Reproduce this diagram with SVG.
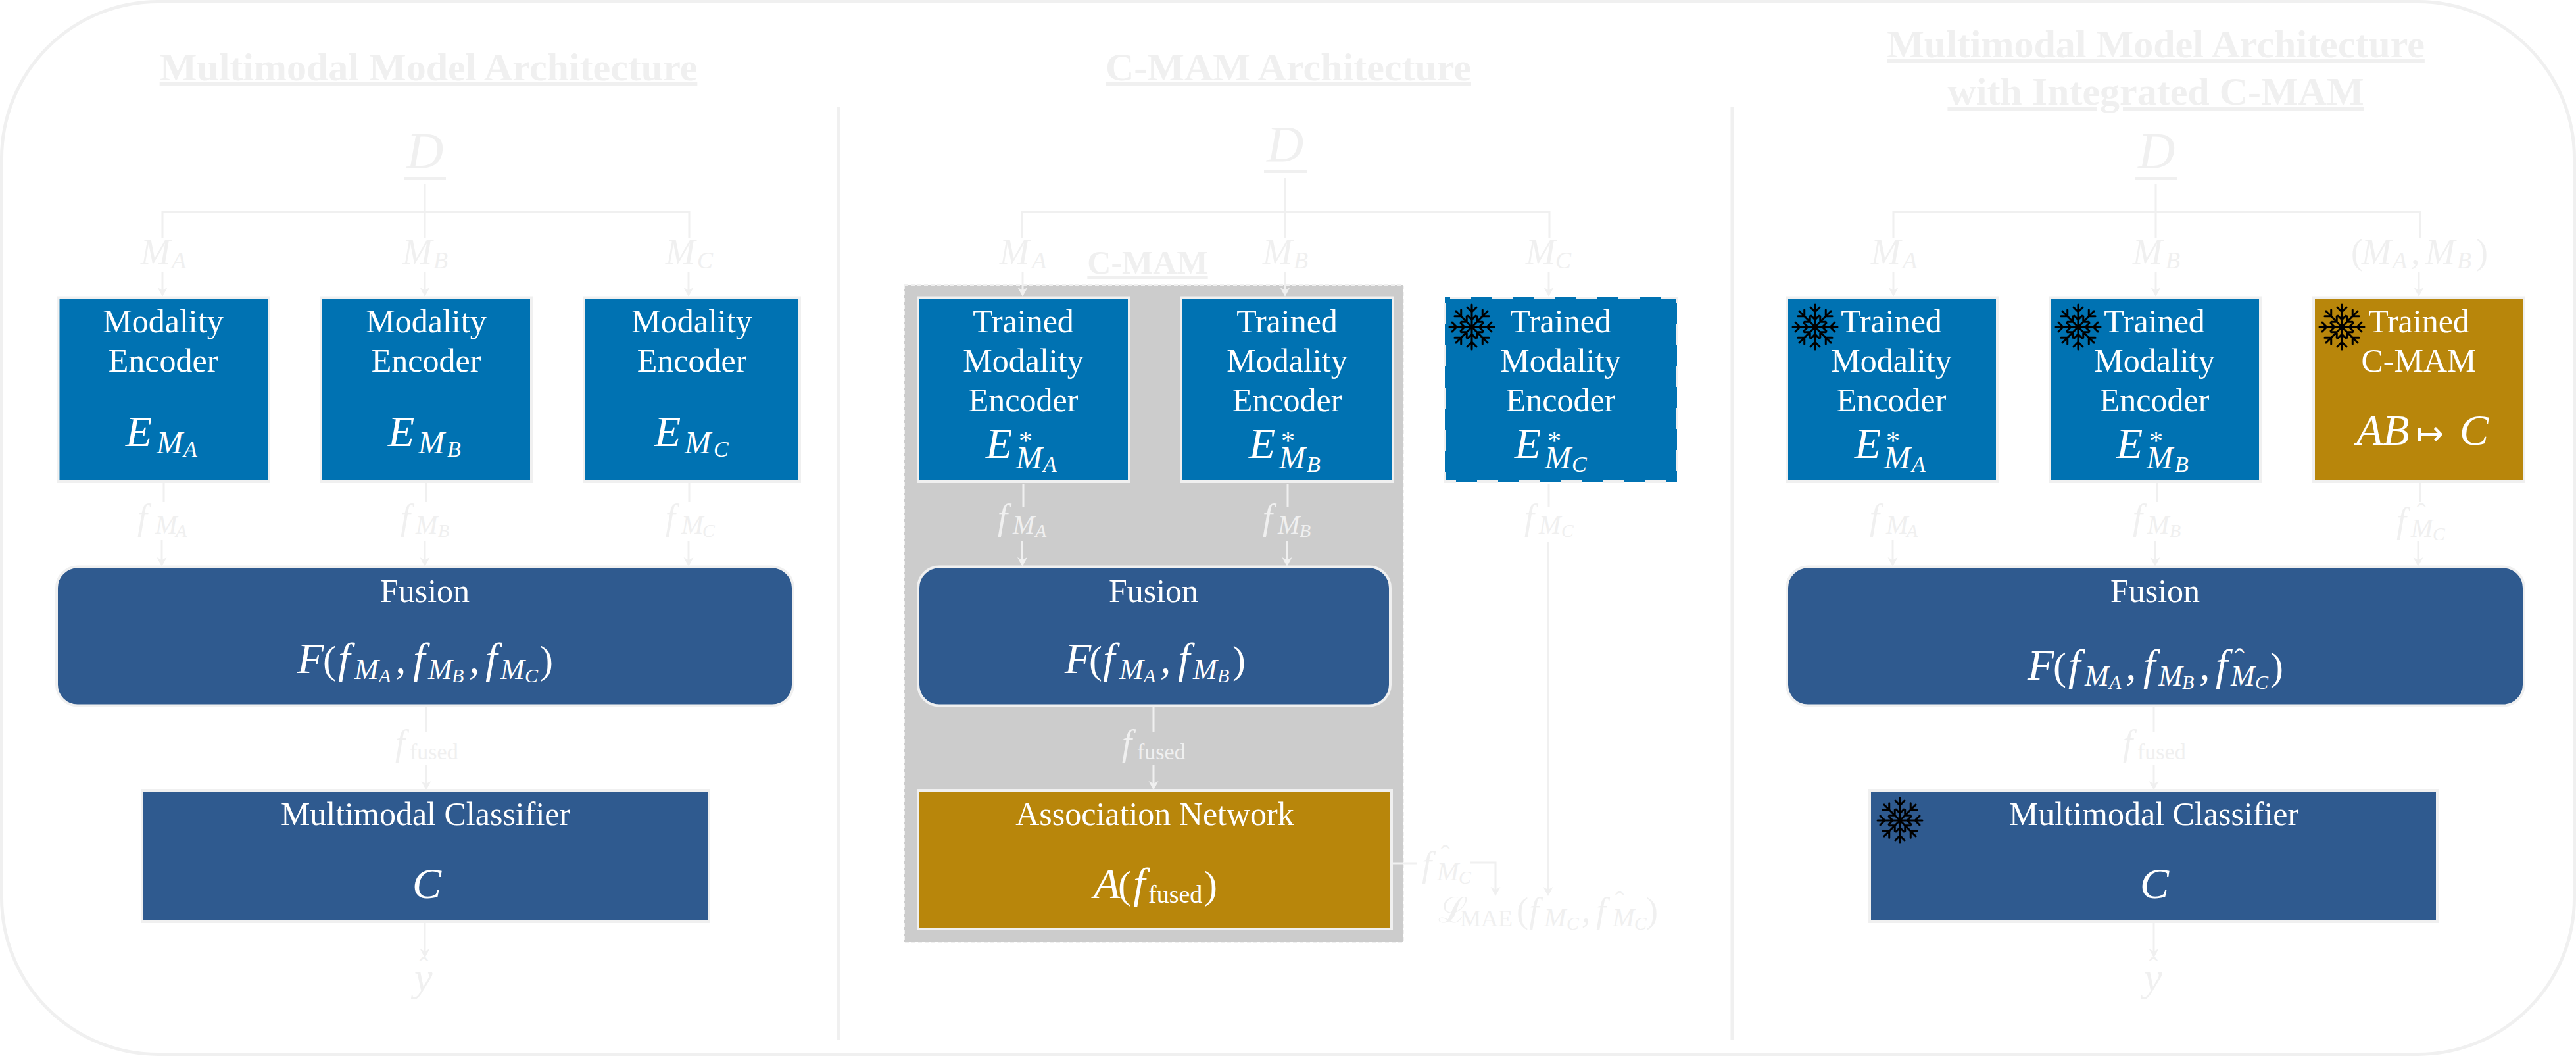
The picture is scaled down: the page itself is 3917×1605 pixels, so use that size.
<svg xmlns="http://www.w3.org/2000/svg" width="3917" height="1605" viewBox="0 0 3917 1605">
<style>
text{font-family:"Liberation Serif","Times New Roman",serif}
.title{font-size:60px;font-weight:700;fill:#f0f0f0;text-anchor:middle;text-decoration:underline}
.cmam{font-size:50px;font-weight:700;fill:#f0f0f0;text-anchor:middle;text-decoration:underline}
.w{font-size:50px;fill:#fff;text-anchor:middle}
.mw{fill:#fff;font-style:italic;font-size:66px}
.ml{fill:#f0f0f0;font-style:italic;font-size:54px}
.big{font-size:78px}
.s48{font-size:48px}.s44{font-size:44px}.s40{font-size:40px}.s42{font-size:42px}.s36{font-size:36px}.s34{font-size:34px}.s32{font-size:32px}.s30{font-size:30px}.s28{font-size:28px}
.r{font-style:normal}
.p{font-size:60px;font-style:normal}
.arrow{font-family:"DejaVu Sans",sans-serif;font-style:normal;font-size:50px;font-weight:200}
.enc{fill:#0072b2;stroke:#f0f0f0;stroke-width:4}
.dark{fill:#2f5a8f;stroke:#f0f0f0;stroke-width:4}
.gold{fill:#b8860b;stroke:#f0f0f0;stroke-width:4}
.con{fill:none;stroke:#f0f0f0;stroke-width:3}
.arr{marker-end:url(#ah)}
.frame{fill:#fff;stroke:#f0f0f0;stroke-width:5}
.bar{stroke:#f0f0f0;stroke-width:4;fill:none}
.sn{fill:none;stroke:#000;stroke-width:3;stroke-linecap:round;stroke-linejoin:round}
</style>
<defs>
<marker id="ah" markerUnits="userSpaceOnUse" markerWidth="16" markerHeight="17" viewBox="0 -8.5 16 17" refX="6" refY="0" orient="auto"><path d="M0,-7.5 L14,0 L0,7.5 L4,0 Z" fill="#f0f0f0"/></marker>
<g id="arm"><path class="sn" d="M0,0V-34M-7,-30L0,-23L7,-30M-6,-17L0,-11L6,-17"/></g>
<g id="snow"><use href="#arm"/><use href="#arm" transform="rotate(45)"/><use href="#arm" transform="rotate(90)"/><use href="#arm" transform="rotate(135)"/><use href="#arm" transform="rotate(180)"/><use href="#arm" transform="rotate(225)"/><use href="#arm" transform="rotate(270)"/><use href="#arm" transform="rotate(315)"/></g>
</defs>

<g id="frame">
<rect class="frame" x="2.5" y="2.5" width="3912" height="1600" rx="238" ry="238"/>
<line class="con" style="stroke-width:5" x1="1274.5" y1="163" x2="1274.5" y2="1580"/>
<line class="con" style="stroke-width:5" x1="2634" y1="163" x2="2634" y2="1580"/>
</g>

<g id="cmam-region">
<rect x="1375" y="433" width="759" height="999" fill="#cccccc" stroke="#f0f0f0" stroke-width="2" stroke-dasharray="6 4"/>
<text class="cmam" x="1745" y="416">C-MAM</text>
</g>

<g id="titles">
<text class="title" x="651.5" y="122">Multimodal Model Architecture</text>
<text class="title" x="1959" y="122">C-MAM Architecture</text>
<text class="title" x="3278" y="87">Multimodal Model Architecture</text>
<text class="title" x="3278" y="159">with Integrated C-MAM</text>
</g>

<g id="connectors">
<path class="con" d="M646,280V362M247,362V322.5H1048V362"/>
<path class="con arr" d="M247,413V443"/><path class="con arr" d="M646,413V443"/><path class="con arr" d="M1047,413V443"/>
<path class="con" d="M249,734V763M648,734V763M1048,734V763"/>
<path class="con arr" d="M246,820V853"/><path class="con arr" d="M646,822V853"/><path class="con arr" d="M1047,822V853"/>
<path class="con" d="M648,1075V1112"/><path class="con arr" d="M648,1163V1193"/><path class="con arr" d="M646,1403V1448"/>
<line class="bar" x1="614" y1="271" x2="678" y2="271"/>

<path class="con" d="M1954,270V362M1554.5,362V322.5H2356V362"/>
<path class="con arr" d="M1555,413V443"/><path class="con arr" d="M1954,413V443"/><path class="con arr" d="M2355,413V443"/>
<path class="con" d="M1556,735V771M1958,735V771M2355,735V771"/>
<path class="con arr" d="M1554.5,822V853"/><path class="con arr" d="M1957,822V853"/><path class="con arr" d="M2354,824V1354"/>
<path class="con" d="M1754,1075V1112"/><path class="con arr" d="M1754,1163V1193"/>
<path class="con" d="M2116,1312H2154"/><path class="con arr" d="M2235,1311H2274V1354"/>
<line class="bar" x1="1922" y1="261" x2="1987" y2="261"/>

<path class="con" d="M3278,280V362M2879,362V322.5H3680V362"/>
<path class="con arr" d="M2879,413V443"/><path class="con arr" d="M3278,413V443"/><path class="con arr" d="M3678,413V443"/>
<path class="con" d="M3280,734V763M3680,734V763"/>
<path class="con arr" d="M2878,820V853"/><path class="con arr" d="M3277,822V853"/><path class="con arr" d="M3677,822V853"/>
<path class="con" d="M3275,1075V1112"/><path class="con arr" d="M3275,1163V1193"/><path class="con arr" d="M3275,1403V1448"/>
<line class="bar" x1="3247" y1="271" x2="3310" y2="271"/>
</g>

<g id="labels">
<text class="ml big" x="618" y="255">D</text><text class="ml big" x="1926" y="245">D</text><text class="ml big" x="3251" y="255">D</text>
<text class="ml"><tspan x="214" y="401">M</tspan><tspan class="s36" x="261" y="408">A</tspan></text>
<text class="ml"><tspan x="612" y="401">M</tspan><tspan class="s36" x="659" y="408">B</tspan></text>
<text class="ml"><tspan x="1012" y="401">M</tspan><tspan class="s36" x="1060" y="408">C</tspan></text>
<text class="ml"><tspan x="1520" y="401">M</tspan><tspan class="s36" x="1569" y="408">A</tspan></text>
<text class="ml"><tspan x="1920" y="401">M</tspan><tspan class="s36" x="1967" y="408">B</tspan></text>
<text class="ml"><tspan x="2320" y="401">M</tspan><tspan class="s36" x="2365" y="408">C</tspan></text>
<text class="ml"><tspan x="2845" y="401">M</tspan><tspan class="s36" x="2893" y="408">A</tspan></text>
<text class="ml"><tspan x="3243" y="401">M</tspan><tspan class="s36" x="3293" y="408">B</tspan></text>
<text class="ml"><tspan x="3575" y="401" class="r">(</tspan><tspan x="3591" y="401">M</tspan><tspan class="s36" x="3638" y="408">A</tspan><tspan x="3666" y="401">,</tspan><tspan x="3688" y="401">M</tspan><tspan class="s36" x="3736" y="408">B</tspan><tspan x="3765" y="401" class="r">)</tspan></text>

<text class="ml"><tspan x="209" y="804">f</tspan><tspan class="s40" x="236" y="811">M</tspan><tspan class="s28" x="267" y="816">A</tspan></text>
<text class="ml"><tspan x="609" y="804">f</tspan><tspan class="s40" x="632" y="811">M</tspan><tspan class="s28" x="666" y="816">B</tspan></text>
<text class="ml"><tspan x="1012" y="804">f</tspan><tspan class="s40" x="1036" y="811">M</tspan><tspan class="s28" x="1068" y="816">C</tspan></text>
<text class="ml"><tspan x="1517" y="804">f</tspan><tspan class="s40" x="1540" y="811">M</tspan><tspan class="s28" x="1574" y="816">A</tspan></text>
<text class="ml"><tspan x="1920" y="804">f</tspan><tspan class="s40" x="1943" y="811">M</tspan><tspan class="s28" x="1976" y="816">B</tspan></text>
<text class="ml"><tspan x="2318" y="804">f</tspan><tspan class="s40" x="2340" y="811">M</tspan><tspan class="s28" x="2374" y="816">C</tspan></text>
<text class="ml"><tspan x="2843" y="804">f</tspan><tspan class="s40" x="2868" y="811">M</tspan><tspan class="s28" x="2899" y="816">A</tspan></text>
<text class="ml"><tspan x="3243" y="804">f</tspan><tspan class="s40" x="3265" y="811">M</tspan><tspan class="s28" x="3299" y="816">B</tspan></text>
<text class="ml"><tspan x="3644" y="809">f</tspan><tspan class="s40" x="3666" y="816">M</tspan><tspan class="s28" x="3699" y="821">C</tspan><tspan class="r s40" x="3675" y="792">ˆ</tspan></text>

<text class="ml"><tspan x="601" y="1147">f</tspan><tspan class="r s34" x="623" y="1154">fused</tspan></text>
<text class="ml"><tspan x="1706" y="1147">f</tspan><tspan class="r s34" x="1729" y="1154">fused</tspan></text>
<text class="ml"><tspan x="3228" y="1147">f</tspan><tspan class="r s34" x="3250" y="1154">fused</tspan></text>
<text class="ml" x="630" y="1506" style="font-size:62px">y</text><text class="ml r s44" x="637" y="1485">ˆ</text>
<text class="ml" x="3260" y="1506" style="font-size:62px">y</text><text class="ml r s44" x="3267" y="1485">ˆ</text>

<text class="ml"><tspan x="2162" y="1332">f</tspan><tspan class="s40" x="2185" y="1338">M</tspan><tspan class="s28" x="2218" y="1343">C</tspan><tspan class="r s40" x="2191" y="1312">ˆ</tspan></text>
<text class="ml"><tspan class="r" x="2187" y="1402">ℒ</tspan><tspan class="r s36" x="2220" y="1408">MAE</tspan><tspan class="r" x="2306" y="1402">(</tspan><tspan x="2325" y="1402">f</tspan><tspan class="s40" x="2348" y="1408">M</tspan><tspan class="s28" x="2382" y="1413">C</tspan><tspan x="2405" y="1402">,</tspan><tspan x="2427" y="1402">f</tspan><tspan class="s40" x="2452" y="1408">M</tspan><tspan class="s28" x="2485" y="1413">C</tspan><tspan class="r s40" x="2456" y="1382">ˆ</tspan><tspan class="r" x="2503" y="1402">)</tspan></text>
</g>

<g id="enc-a"><rect class="enc" x="88.5" y="452.5" width="320.5" height="279.5"/><text class="w" x="248" y="505">Modality</text><text class="w" x="248" y="565">Encoder</text><text class="mw"><tspan x="191" y="678">E</tspan><tspan class="s48" x="238" y="689">M</tspan><tspan class="s34" x="279" y="694">A</tspan></text></g>
<g id="enc-b"><rect class="enc" x="488" y="452.5" width="320" height="279.5"/><text class="w" x="648" y="505">Modality</text><text class="w" x="648" y="565">Encoder</text><text class="mw"><tspan x="590" y="678">E</tspan><tspan class="s48" x="636" y="689">M</tspan><tspan class="s34" x="680" y="694">B</tspan></text></g>
<g id="enc-c"><rect class="enc" x="888" y="452.5" width="328" height="279.5"/><text class="w" x="1052" y="505">Modality</text><text class="w" x="1052" y="565">Encoder</text><text class="mw"><tspan x="995" y="678">E</tspan><tspan class="s48" x="1041" y="689">M</tspan><tspan class="s34" x="1085" y="694">C</tspan></text></g>
<g id="fusion-1"><rect class="dark" x="86" y="861.5" width="1120" height="211" rx="32" ry="32"/><text class="w" x="646" y="915">Fusion</text>
<text class="mw"><tspan x="452" y="1023">F</tspan><tspan x="491" y="1023" class="p">(</tspan><tspan x="514" y="1023">f</tspan><tspan class="s44" x="539" y="1032">M</tspan><tspan class="s30" x="576" y="1037">A</tspan><tspan x="601" y="1023">,</tspan><tspan x="628" y="1023">f</tspan><tspan class="s44" x="651" y="1032">M</tspan><tspan class="s30" x="687" y="1037">B</tspan><tspan x="713" y="1023">,</tspan><tspan x="738" y="1023">f</tspan><tspan class="s44" x="761" y="1032">M</tspan><tspan class="s30" x="798" y="1037">C</tspan><tspan x="821" y="1023" class="p">)</tspan></text></g>
<g id="classifier-1"><rect class="dark" x="216" y="1201" width="862" height="200"/><text class="w" x="647" y="1254">Multimodal Classifier</text><text class="mw" x="627" y="1365">C</text></g>

<g id="tenc-a"><rect class="enc" x="1396" y="452.5" width="321" height="279.5"/><text class="w" x="1556" y="505">Trained</text><text class="w" x="1556" y="565">Modality</text><text class="w" x="1556" y="625">Encoder</text><text class="mw"><tspan x="1499" y="696">E</tspan><tspan class="s42 r" x="1549" y="684">*</tspan><tspan class="s48" x="1545" y="712">M</tspan><tspan class="s34" x="1586" y="717">A</tspan></text></g>
<g id="tenc-b"><rect class="enc" x="1796" y="452.5" width="322" height="279.5"/><text class="w" x="1957" y="505">Trained</text><text class="w" x="1957" y="565">Modality</text><text class="w" x="1957" y="625">Encoder</text><text class="mw"><tspan x="1899" y="696">E</tspan><tspan class="s42 r" x="1948" y="684">*</tspan><tspan class="s48" x="1945" y="712">M</tspan><tspan class="s34" x="1987" y="717">B</tspan></text></g>
<g id="tenc-c"><rect x="2197" y="452" width="353" height="281" fill="#0072b2"/><rect x="2197" y="453" width="353" height="279" fill="none" stroke="#f0f0f0" stroke-width="4" stroke-dasharray="32 32" stroke-dashoffset="-8"/><use href="#snow" x="2238" y="497"/><text class="w" x="2373" y="505">Trained</text><text class="w" x="2373" y="565">Modality</text><text class="w" x="2373" y="625">Encoder</text><text class="mw"><tspan x="2303" y="696">E</tspan><tspan class="s42 r" x="2353" y="684">*</tspan><tspan class="s48" x="2349" y="712">M</tspan><tspan class="s34" x="2390" y="717">C</tspan></text></g>
<g id="fusion-2"><rect class="dark" x="1396" y="861.5" width="718" height="211" rx="32" ry="32"/><text class="w" x="1754" y="915">Fusion</text>
<text class="mw"><tspan x="1619" y="1023">F</tspan><tspan x="1656" y="1023" class="p">(</tspan><tspan x="1677" y="1023">f</tspan><tspan class="s44" x="1702" y="1032">M</tspan><tspan class="s30" x="1739" y="1037">A</tspan><tspan x="1764" y="1023">,</tspan><tspan x="1791" y="1023">f</tspan><tspan class="s44" x="1814" y="1032">M</tspan><tspan class="s30" x="1851" y="1037">B</tspan><tspan x="1874" y="1023" class="p">)</tspan></text></g>
<g id="assoc"><rect class="gold" x="1396" y="1201" width="720" height="211"/><text class="w" x="1756" y="1254">Association Network</text>
<text class="mw"><tspan x="1663" y="1365">A</tspan><tspan x="1700" y="1365" class="p">(</tspan><tspan x="1723" y="1365">f</tspan><tspan class="r" x="1746" y="1372" style="font-size:38px">fused</tspan><tspan x="1831" y="1365" class="p">)</tspan></text></g>

<g id="renc-a"><rect class="enc" x="2717" y="452.5" width="320" height="279.5"/><use href="#snow" x="2760" y="497"/><text class="w" x="2876" y="505">Trained</text><text class="w" x="2876" y="565">Modality</text><text class="w" x="2876" y="625">Encoder</text><text class="mw"><tspan x="2820" y="696">E</tspan><tspan class="s42 r" x="2868" y="684">*</tspan><tspan class="s48" x="2865" y="712">M</tspan><tspan class="s34" x="2907" y="717">A</tspan></text></g>
<g id="renc-b"><rect class="enc" x="3117" y="452.5" width="320" height="279.5"/><use href="#snow" x="3160" y="497"/><text class="w" x="3276" y="505">Trained</text><text class="w" x="3276" y="565">Modality</text><text class="w" x="3276" y="625">Encoder</text><text class="mw"><tspan x="3218" y="696">E</tspan><tspan class="s42 r" x="3268" y="684">*</tspan><tspan class="s48" x="3264" y="712">M</tspan><tspan class="s34" x="3307" y="717">B</tspan></text></g>
<g id="rcmam"><rect class="gold" x="3518" y="452.5" width="320" height="279.5"/><use href="#snow" x="3561" y="497"/><text class="w" x="3678" y="505">Trained</text><text class="w" x="3678" y="565">C-MAM</text><text class="mw"><tspan x="3583" y="676">AB</tspan><tspan x="3674" y="676" class="arrow">↦</tspan><tspan x="3740" y="676">C</tspan></text></g>
<g id="fusion-3"><rect class="dark" x="2717" y="861.5" width="1121" height="211" rx="32" ry="32"/><text class="w" x="3277" y="915">Fusion</text>
<text class="mw"><tspan x="3083" y="1033">F</tspan><tspan x="3122" y="1033" class="p">(</tspan><tspan x="3145" y="1033">f</tspan><tspan class="s44" x="3170" y="1042">M</tspan><tspan class="s30" x="3207" y="1047">A</tspan><tspan x="3232" y="1033">,</tspan><tspan x="3259" y="1033">f</tspan><tspan class="s44" x="3282" y="1042">M</tspan><tspan class="s30" x="3318" y="1047">B</tspan><tspan x="3344" y="1033">,</tspan><tspan x="3369" y="1033">f</tspan><tspan class="s44" x="3392" y="1042">M</tspan><tspan class="s30" x="3429" y="1047">C</tspan><tspan class="r s44" x="3398" y="1016">ˆ</tspan><tspan x="3452" y="1033" class="p">)</tspan></text></g>
<g id="classifier-2"><rect class="dark" x="2843" y="1201" width="863" height="200"/><use href="#snow" x="2889" y="1247"/><text class="w" x="3275" y="1254">Multimodal Classifier</text><text class="mw" x="3254" y="1365">C</text></g>
</svg>
